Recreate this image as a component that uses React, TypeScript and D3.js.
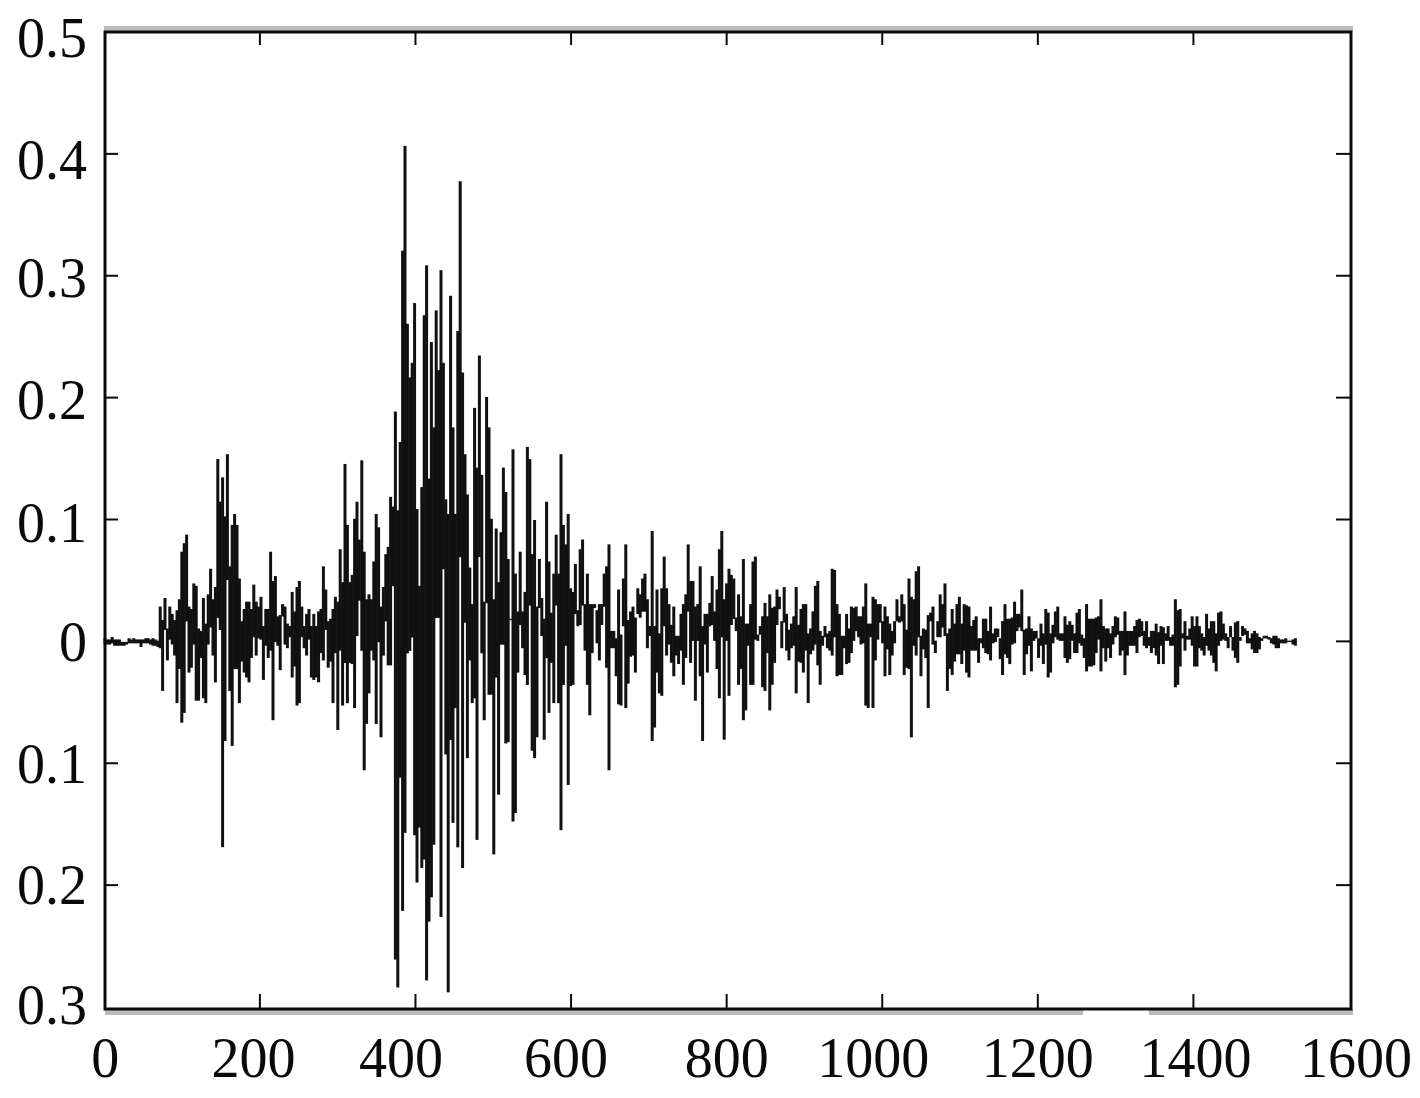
import React, { useEffect, useRef } from "react";
import * as d3 from "d3";

// one sample every ~3 x units, each drawn as a bar from its low to its high (values in thousandths)
const sampleStep = 3.085;

const highQuiet = [2, 1, 1, 3, 1, 1, 1, -1, -1, -1, 2, 1, 2, 1, 1, 1, 1, 2, 2, 1, 2, 1, 0];
const lowQuiet = [-2, -2, -2, -1, -3, -3, -3, -3, -3, -2, -1, -1, -1, -1, -1, -4, -1, -1, -1, -2, -3, -3, -4];

const highEarly = [
  28, 17, 35, 10, 28, 22, 17, 25, 34, 73, 80, 87, 28, 26, 47, 45, 10, 8, 35, 14,
  38, 59, 34, 44, 149, 114, 134, 102, 153, 61, 95, 104, 95, 51, 16, 26, 32, 32, 26, 46,
  32, 28, 36, 12, 26, 26, 73, 49, 53, 20, 21, 30, 28, 14, 12, 40, 24, 44, 49, 28,
  12, 22, 26, 12, 22, 12, 24, 26, 61, 42, 16, 18, 26, 36, 32, 75, 48, 145, 95, 48,
  54, 100, 114, 83, 148, 73, 34, 38, 34, 65, 104, 93, 28, 44, 71, 77, 118, 110,
];
const lowEarly = [
  -5, -40, 10, -15, 2, -2, -11, -50, -22, -66, -58, 17, -25, -21, -2, -48, -48, -13, -46, -50,
  -2, 12, -11, -33, 20, 10, -168, -81, 51, -40, -85, -22, -22, -50, -16, -25, -29, -33, -13, 4,
  -11, 3, 2, -31, -3, -13, -7, -64, 0, -3, -23, 21, -2, -5, 4, -29, -20, -52, -50, 4,
  -5, -11, 2, -29, -31, -29, -33, -9, -15, 10, -21, -16, -50, -9, -72, -7, -52, -17, -50, -17,
  -18, -54, 5, 34, -7, -105, -67, -42, -7, -15, -67, 0, -78, -11, 17, -19, -19, 46,
];

const highBurst = [
  188, 107, 163, 320, 406, 260, 216, 228, 277, 108, 45, 126, 267, 308, 133, 245, 175, 271, 222, 304,
  228, 116, 104, 283, 175, 104, 254, 377, 220, 153, 120, 60, 30, 191, 142, 234, 136, 32, 200, 175,
  100, 34, 92, 48, 89, 142, 122, 67, 18, 157, 55, 24, 73, 24, 40, 159, 149, 71, 99, 28,
  67, 35, 18, 114, 65, 23, 55, 87, 55, 153, 95, 79, 104, 43, 40, 63, 25, 75, 83, 30,
  55, 30, 30, 30, 25, 30, 30, 55, 61, 79,
];
const lowBurst = [
  -260, -283, -111, -220, -156, -9, -7, 4, -158, -197, -152, -185, -178, -277, -229, -209, -166, 20, 20, -225,
  60, -92, -287, -80, -148, -54, -168, 70, -185, 16, -95, -15, -50, -46, -162, 70, -9, -64, 32, -43,
  -43, -174, -29, -125, -2, -2, -83, -82, 18, -147, -140, -25, 14, -5, -27, -35, 30, -89, -95, -78,
  28, 5, -80, -13, -58, -17, -50, 30, -50, -154, -35, -3, -117, -36, -35, 23, 13, 14, 30, -7,
  -35, -60, -9, 28, -1, -15, 14, 29, -21, -105,
];

const highMiddle = [
  8, 8, 2, 42, 5, 51, 79, 17, 24, 28, 19, 43, 38, 51, 55, 34, 12, 90, 12, 42,
  6, 43, 69, 43, 30, 13, 28, 4, 4, 22, 30, 38, 79, 49, 49, 28, 30, 61, 12, 22,
  22, 31, 53, 24, 42, 75, 90, 34, 47, 59, 54, 51, 19, 38, 20, 67, 14, 14, 30, 65,
  69, 5, 12, 20, 31, 20, 38, 27, 28, 42, 36, 16, 44, 22, 9, 14, 20, 44, 13, 26,
  30, 30, 6, 10, 24, 45, 49, 8, 4, 12, 6, 8, 59, 58, 30, 22, 4, 4, 22, 10,
  28, 27, 28, 20, 20, 28, 47, 14, 14, 36, 34, 30, 30, 16, 28, 20, 14, 8, 16, 34,
  20, 38, 30, 9, 51, 36, 34, 57, 61, 4, 10, 9, 21, 23, 28, 0, 16, 38, 30, 47,
  6, 10, 26, 14, 30, 36,
];
const lowMiddle = [
  -5, -5, -28, -51, -52, 13, -54, -34, -12, -11, -25, 23, 20, 25, 25, -5, 5, -81, -70, -25,
  -42, -44, 13, -11, -2, -17, -28, -11, -18, -7, -35, -13, 25, -17, 1, -48, 1, -28, -81, -2,
  -25, 13, 14, 1, -22, -46, 4, -80, 1, -44, 14, 19, 9, -35, -22, -64, -56, -3, -35, -35,
  2, 1, 6, -37, -40, -9, -56, -35, -17, 14, 27, -5, 16, -7, -15, -5, -3, -42, -16, -17,
  -25, -7, -50, -10, -7, -2, -19, -35, -3, 4, -5, -7, -11, 4, -28, -27, -27, -5, -18, -17,
  -9, 1, 9, 4, -2, -1, -52, -54, 4, -54, -15, 2, 16, -1, -28, -6, -27, -11, -1, 17,
  16, 17, -27, -21, -22, -78, -3, -11, 4, -28, -6, -13, -54, 17, -2, -9, 4, 4, 12, 5,
  -40, -22, -27, -16, -10, -10,
];

const highTail = [
  14, 30, 29, 28, 12, 17, 20, 2, 2, 18, 18, 8, 28, 6, 10, 10, 2, 16, 30, 18,
  18, 19, 32, 22, 22, 42, 9, 10, 20, 10, 8, 8, 2, 14, 6, 26, 23, 6, 13, 24,
  28, 6, 6, 20, 13, 16, 13, 6, 23, 26, 5, 2, 30, 18, 18, 18, 19, 20, 34, 12,
  10, 10, 6, 12, 20, 19, 8, 8, 24, 8, 8, 8, 12, 17, 18, 16, 8, 16, 3, 8,
  8, 14, 7, 12, 11, 6, 12, 3, 5, 34, 25, 26, 6, 16, 2, 10, 20, 12, 20, 12,
  6, 3, 22, 10, 16, 16, 6, 23, 24, 14, 6, 3, 12, 3, 15, 16, 3, 12, 10, 8,
  2, 6, 8, 6, 3, 2, 4, 4, 3, 2, 4, 4, 2, 1, 1, 2, 0, 0, 1, 2,
];
const lowTail = [
  -18, -7, -25, -29, -7, -7, -7, -17, -1, -5, -9, -10, -15, -1, 0, 4, -14, -27, -10, -13,
  -18, -2, -1, 9, 12, 9, -27, -10, -3, -24, 1, 3, -13, -3, -18, -2, -29, -25, -1, 4,
  2, 1, 1, -13, -17, -14, 1, -9, -9, -1, -3, -13, -24, -20, -20, -19, -9, 2, -24, -5,
  -16, -5, -13, -2, 4, 6, -11, -7, -27, -11, -3, -3, -3, -9, 4, 5, -3, -5, -3, -9,
  -5, -11, -18, -3, -18, 1, 1, -3, -3, -37, -35, -20, 3, -7, 4, 2, -3, -20, -20, -5,
  -7, -11, -3, -7, -11, -17, -24, -3, 1, 2, 1, -5, 4, -7, -13, -17, 1, 5, 6, -1,
  -1, -6, -9, -9, -6, 1, 3, 3, 2, -1, -2, -5, -5, -1, -1, -1, 0, 0, -2, -3,
];

const highs = [...highQuiet, ...highEarly, ...highBurst, ...highMiddle, ...highTail];
const lows = [...lowQuiet, ...lowEarly, ...lowBurst, ...lowMiddle, ...lowTail];

const xTicks = [0, 200, 400, 600, 800, 1000, 1200, 1400, 1600];
const xLabelShift = [1, -6.4, -14.5, -5, 0, -9, 0, 2, 7];
// the source prints the negative ticks with no minus sign
const yTicks = [-0.3, -0.2, -0.1, 0, 0.1, 0.2, 0.3, 0.4, 0.5];
const yLabels = ["0.3", "0.2", "0.1", "0", "0.1", "0.2", "0.3", "0.4", "0.5"];
const yLabelDrop = [17, 19, 20, 20, 22, 21, 21, 25, 25];

export default function App() {
  const svgRef = useRef<SVGSVGElement | null>(null);

  useEffect(() => {
    const svg = d3.select(svgRef.current);
    svg.selectAll("*").remove();

    const left = 105;
    const right = 1351;
    const top = 32;
    const bottom = 1009;
    const ink = "#0a0a0a";

    const x = d3.scaleLinear().domain([0, 1600]).range([104.3, 1349]);
    const y = d3.scaleLinear().domain([-0.3, 0.5]).range([1007, top]);

    // grey scan shadow along the top and bottom of the frame
    const shadow = svg.append("g").attr("fill", "#bcbcbc");
    shadow.append("rect").attr("x", left - 1).attr("y", top - 6).attr("width", right - left + 3).attr("height", 6);
    shadow.append("rect").attr("x", left).attr("y", bottom).attr("width", 978).attr("height", 6);
    shadow.append("rect").attr("x", 1149).attr("y", bottom).attr("width", 204).attr("height", 6);

    const bars = d3.range(Math.min(highs.length, lows.length));
    svg
      .append("g")
      .attr("fill", "#111")
      .selectAll("rect")
      .data(bars)
      .enter()
      .append("rect")
      .attr("x", i => x(i * sampleStep) - 0.8)
      .attr("width", 3)
      .attr("y", i => y(Math.max(highs[i], lows[i]) / 1000) - 0.7)
      .attr("height", i => Math.abs(highs[i] - lows[i]) * 1.22 + 1.4);

    svg
      .append("rect")
      .attr("x", left)
      .attr("y", top)
      .attr("width", right - left)
      .attr("height", bottom - top)
      .attr("fill", "none")
      .attr("stroke", ink)
      .attr("stroke-width", 3);

    const ticks = svg.append("g").attr("stroke", ink).attr("stroke-width", 2);
    xTicks.slice(1, -1).forEach(t => {
      ticks.append("line").attr("x1", x(t)).attr("x2", x(t)).attr("y1", bottom).attr("y2", bottom - 15);
      ticks.append("line").attr("x1", x(t)).attr("x2", x(t)).attr("y1", top).attr("y2", top + 13);
    });
    yTicks.slice(1, -1).forEach(t => {
      ticks.append("line").attr("x1", left).attr("x2", left + 13).attr("y1", y(t)).attr("y2", y(t));
      ticks.append("line").attr("x1", right).attr("x2", right - 15).attr("y1", y(t)).attr("y2", y(t));
    });

    const labels = svg
      .append("g")
      .attr("font-family", "'Liberation Serif', serif")
      .attr("font-size", 56)
      .attr("fill", ink);

    labels
      .selectAll("text.x")
      .data(xTicks)
      .enter()
      .append("text")
      .attr("class", "x")
      .attr("x", (d, i) => x(d) + xLabelShift[i])
      .attr("y", 1077)
      .attr("text-anchor", "middle")
      .text(d => d);

    labels
      .selectAll("text.y")
      .data(yTicks)
      .enter()
      .append("text")
      .attr("class", "y")
      .attr("x", 87)
      .attr("y", (d, i) => y(d) + yLabelDrop[i])
      .attr("text-anchor", "end")
      .text((d, i) => yLabels[i]);
  }, []);

  return (
    <svg
      ref={svgRef}
      width={1420}
      height={1098}
      style={{ position: "absolute", left: 0, top: 0, display: "block", background: "#fff" }}
    />
  );
}
